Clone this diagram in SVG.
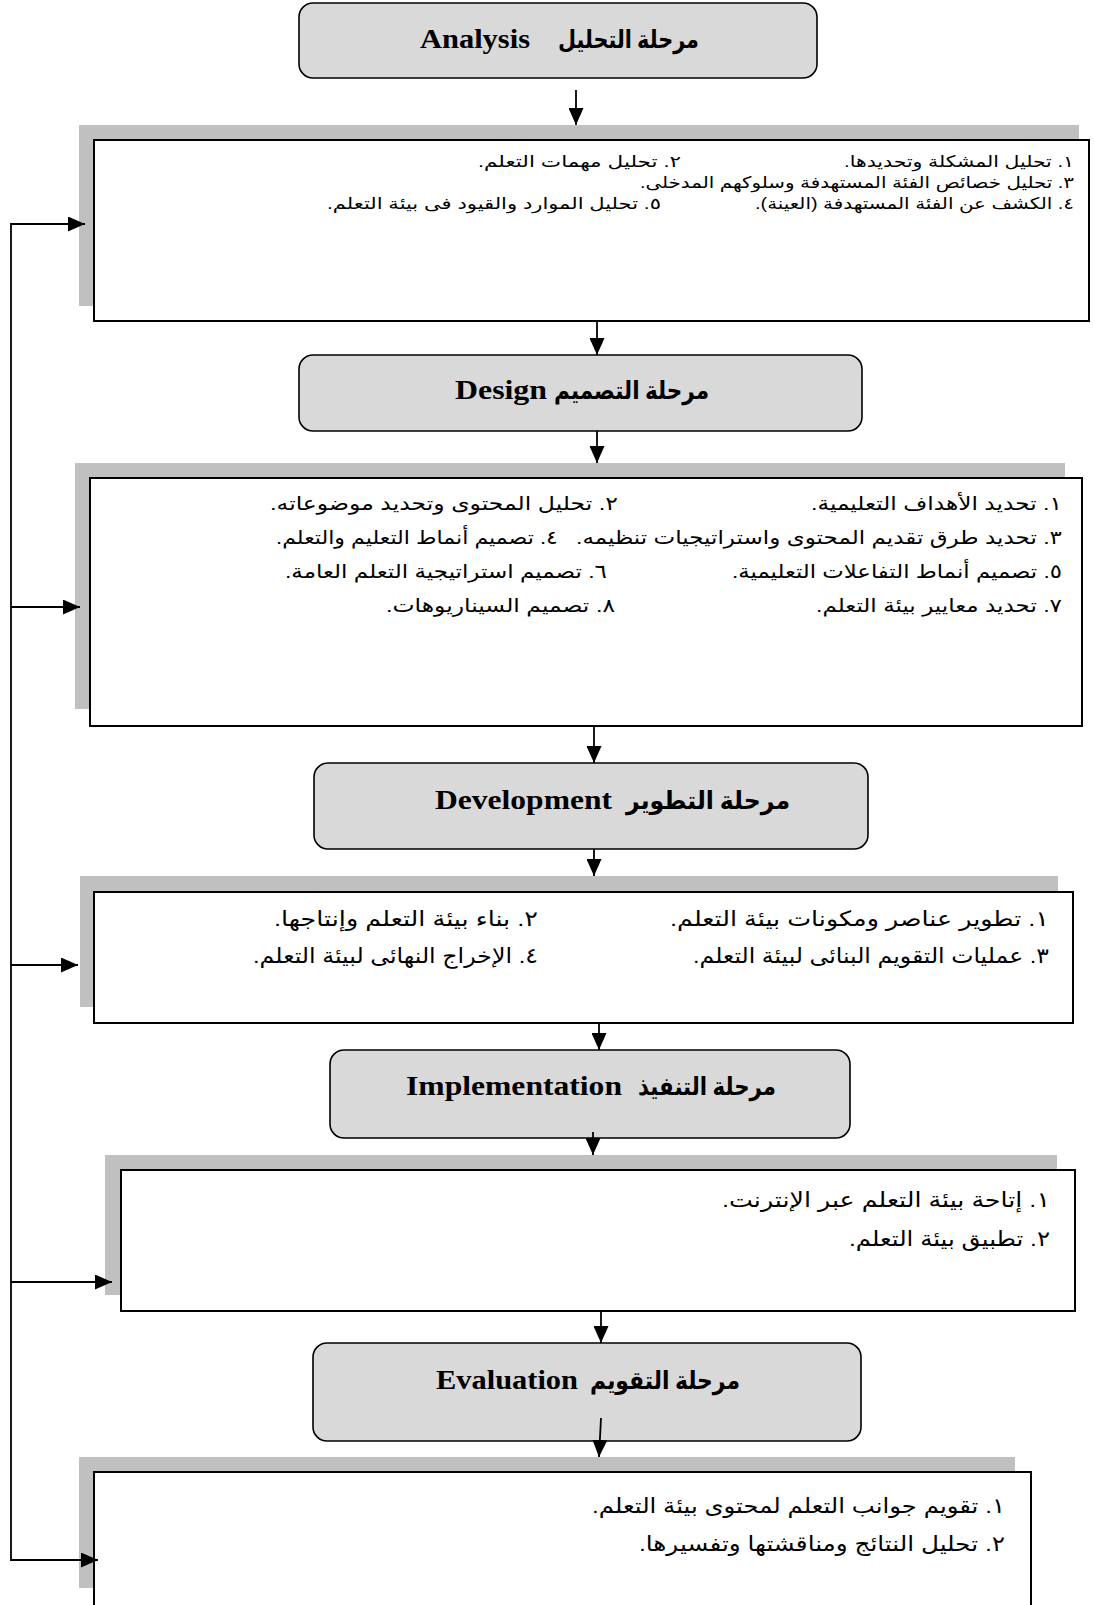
<svg xmlns="http://www.w3.org/2000/svg" width="1094" height="1605" viewBox="0 0 1094 1605">
<style>
.phase{fill:#d9d9d9;stroke:#000;stroke-width:1.6}
.shadow{fill:#c0c0c0;stroke:none}
.panel{fill:#fff;stroke:#000;stroke-width:2}
.ttl{font-family:'Liberation Serif','DejaVu Sans',serif;font-weight:bold;font-size:27px;fill:#000}
.tar{font-family:'Liberation Serif','DejaVu Sans',serif;font-weight:bold;font-size:25px;fill:#000}
.it{font-family:'Liberation Sans','DejaVu Sans',sans-serif;fill:#000}
.s15{font-size:16px}
.s18{font-size:19px}
.s20{font-size:21px}
.con{stroke:#000;stroke-width:1.8;fill:none}
</style>
<defs>
<marker id="ah" markerUnits="userSpaceOnUse" markerWidth="17" markerHeight="15" refX="17" refY="7.5" orient="auto">
<path d="M0,0 L17,7.5 L0,15 Z" fill="#000"/>
</marker>
</defs>
<rect width="1094" height="1605" fill="#fff"/>

<g id="analysis">
<rect class="phase" x="299" y="3" width="518" height="75" rx="14"/>
<text class="tar" x="699" y="48" direction="rtl" text-anchor="start" textLength="141" lengthAdjust="spacingAndGlyphs">مرحلة التحليل</text>
<text class="ttl" x="420" y="48" textLength="110" lengthAdjust="spacingAndGlyphs">Analysis</text>
</g>

<g id="analysis-tasks">
<rect class="shadow" x="79" y="125" width="1000" height="181"/>
<rect class="panel" x="94" y="140" width="995" height="181"/>
<text class="it s15" x="1074" y="167" direction="rtl" text-anchor="start" textLength="230" lengthAdjust="spacingAndGlyphs">١. تحليل المشكلة وتحديدها.</text>
<text class="it s15" x="681" y="167" direction="rtl" text-anchor="start" textLength="203" lengthAdjust="spacingAndGlyphs">٢. تحليل مهمات التعلم.</text>
<text class="it s15" x="1074" y="188" direction="rtl" text-anchor="start" textLength="434" lengthAdjust="spacingAndGlyphs">٣. تحليل خصائص الفئة المستهدفة وسلوكهم المدخلى.</text>
<text class="it s15" x="1074" y="209" direction="rtl" text-anchor="start" textLength="319" lengthAdjust="spacingAndGlyphs">٤. الكشف عن الفئة المستهدفة (العينة).</text>
<text class="it s15" x="661" y="209" direction="rtl" text-anchor="start" textLength="334" lengthAdjust="spacingAndGlyphs">٥. تحليل الموارد والقيود فى بيئة التعلم.</text>
</g>

<g id="design">
<rect class="phase" x="299" y="355" width="563" height="76" rx="14"/>
<text class="tar" x="709" y="399" direction="rtl" text-anchor="start" textLength="155" lengthAdjust="spacingAndGlyphs">مرحلة التصميم</text>
<text class="ttl" x="455" y="399" textLength="92" lengthAdjust="spacingAndGlyphs">Design</text>
</g>

<g id="design-tasks">
<rect class="shadow" x="75" y="463" width="990" height="246"/>
<rect class="panel" x="90" y="478" width="992" height="248"/>
<text class="it s18" x="1062" y="510" direction="rtl" text-anchor="start" textLength="251" lengthAdjust="spacingAndGlyphs">١. تحديد الأهداف التعليمية.</text>
<text class="it s18" x="618" y="510" direction="rtl" text-anchor="start" textLength="348" lengthAdjust="spacingAndGlyphs">٢. تحليل المحتوى وتحديد موضوعاته.</text>
<text class="it s18" x="1062" y="544" direction="rtl" text-anchor="start" textLength="486" lengthAdjust="spacingAndGlyphs">٣. تحديد طرق تقديم المحتوى واستراتيجيات تنظيمه.</text>
<text class="it s18" x="558" y="544" direction="rtl" text-anchor="start" textLength="282" lengthAdjust="spacingAndGlyphs">٤. تصميم أنماط التعليم والتعلم.</text>
<text class="it s18" x="1062" y="578" direction="rtl" text-anchor="start" textLength="330" lengthAdjust="spacingAndGlyphs">٥. تصميم أنماط التفاعلات التعليمية.</text>
<text class="it s18" x="607" y="578" direction="rtl" text-anchor="start" textLength="322" lengthAdjust="spacingAndGlyphs">٦. تصميم استراتيجية التعلم العامة.</text>
<text class="it s18" x="1062" y="612" direction="rtl" text-anchor="start" textLength="246" lengthAdjust="spacingAndGlyphs">٧. تحديد معايير بيئة التعلم.</text>
<text class="it s18" x="615" y="612" direction="rtl" text-anchor="start" textLength="229" lengthAdjust="spacingAndGlyphs">٨. تصميم السيناريوهات.</text>
</g>

<g id="development">
<rect class="phase" x="314" y="763" width="554" height="86" rx="14"/>
<text class="tar" x="790" y="809" direction="rtl" text-anchor="start" textLength="164" lengthAdjust="spacingAndGlyphs">مرحلة التطوير</text>
<text class="ttl" x="435" y="809" textLength="177" lengthAdjust="spacingAndGlyphs">Development</text>
</g>

<g id="development-tasks">
<rect class="shadow" x="80" y="876" width="978" height="131"/>
<rect class="panel" x="94" y="892" width="979" height="131"/>
<text class="it s20" x="1049" y="926" direction="rtl" text-anchor="start" textLength="379" lengthAdjust="spacingAndGlyphs">١. تطوير عناصر ومكونات بيئة التعلم.</text>
<text class="it s20" x="538" y="926" direction="rtl" text-anchor="start" textLength="264" lengthAdjust="spacingAndGlyphs">٢. بناء بيئة التعلم وإنتاجها.</text>
<text class="it s20" x="1049" y="963" direction="rtl" text-anchor="start" textLength="356" lengthAdjust="spacingAndGlyphs">٣. عمليات التقويم البنائى لبيئة التعلم.</text>
<text class="it s20" x="538" y="963" direction="rtl" text-anchor="start" textLength="285" lengthAdjust="spacingAndGlyphs">٤. الإخراج النهائى لبيئة التعلم.</text>
</g>

<g id="implementation">
<rect class="phase" x="330" y="1050" width="520" height="88" rx="14"/>
<text class="tar" x="776" y="1095" direction="rtl" text-anchor="start" textLength="138" lengthAdjust="spacingAndGlyphs">مرحلة التنفيذ</text>
<text class="ttl" x="406" y="1095" textLength="216" lengthAdjust="spacingAndGlyphs">Implementation</text>
</g>

<g id="implementation-tasks">
<rect class="shadow" x="105" y="1155" width="952" height="140"/>
<rect class="panel" x="121" y="1170" width="954" height="141"/>
<text class="it s20" x="1050" y="1207" direction="rtl" text-anchor="start" textLength="328" lengthAdjust="spacingAndGlyphs">١. إتاحة بيئة التعلم عبر الإنترنت.</text>
<text class="it s20" x="1050" y="1246" direction="rtl" text-anchor="start" textLength="201" lengthAdjust="spacingAndGlyphs">٢. تطبيق بيئة التعلم.</text>
</g>

<g id="evaluation">
<rect class="phase" x="313" y="1343" width="548" height="98" rx="14"/>
<text class="tar" x="740" y="1389" direction="rtl" text-anchor="start" textLength="150" lengthAdjust="spacingAndGlyphs">مرحلة التقويم</text>
<text class="ttl" x="436" y="1389" textLength="142" lengthAdjust="spacingAndGlyphs">Evaluation</text>
</g>

<g id="evaluation-tasks">
<rect class="shadow" x="79" y="1457" width="936" height="131"/>
<rect class="panel" x="94" y="1472" width="937" height="150"/>
<text class="it s20" x="1005" y="1513" direction="rtl" text-anchor="start" textLength="413" lengthAdjust="spacingAndGlyphs">١. تقويم جوانب التعلم لمحتوى بيئة التعلم.</text>
<text class="it s20" x="1005" y="1551" direction="rtl" text-anchor="start" textLength="366" lengthAdjust="spacingAndGlyphs">٢. تحليل النتائج ومناقشتها وتفسيرها.</text>
</g>

<g id="connectors">
<line class="con" x1="576" y1="90" x2="576" y2="125" marker-end="url(#ah)"/>
<line class="con" x1="597" y1="321" x2="597" y2="355" marker-end="url(#ah)"/>
<line class="con" x1="597" y1="431" x2="597" y2="463" marker-end="url(#ah)"/>
<line class="con" x1="594" y1="726" x2="594" y2="763" marker-end="url(#ah)"/>
<line class="con" x1="594" y1="849" x2="594" y2="876" marker-end="url(#ah)"/>
<line class="con" x1="599" y1="1023" x2="599" y2="1050" marker-end="url(#ah)"/>
<line class="con" x1="593" y1="1132" x2="593" y2="1155" marker-end="url(#ah)"/>
<line class="con" x1="601" y1="1311" x2="601" y2="1343" marker-end="url(#ah)"/>
<line class="con" x1="601" y1="1418" x2="599" y2="1457" marker-end="url(#ah)"/>
<path class="con" d="M11,223 V1561"/>
<line class="con" x1="11" y1="224" x2="85" y2="224" marker-end="url(#ah)"/>
<line class="con" x1="11" y1="607" x2="80" y2="607" marker-end="url(#ah)"/>
<line class="con" x1="11" y1="965" x2="78" y2="965" marker-end="url(#ah)"/>
<line class="con" x1="11" y1="1282" x2="112" y2="1282" marker-end="url(#ah)"/>
<line class="con" x1="11" y1="1560" x2="98" y2="1560" marker-end="url(#ah)"/>
</g>
</svg>
